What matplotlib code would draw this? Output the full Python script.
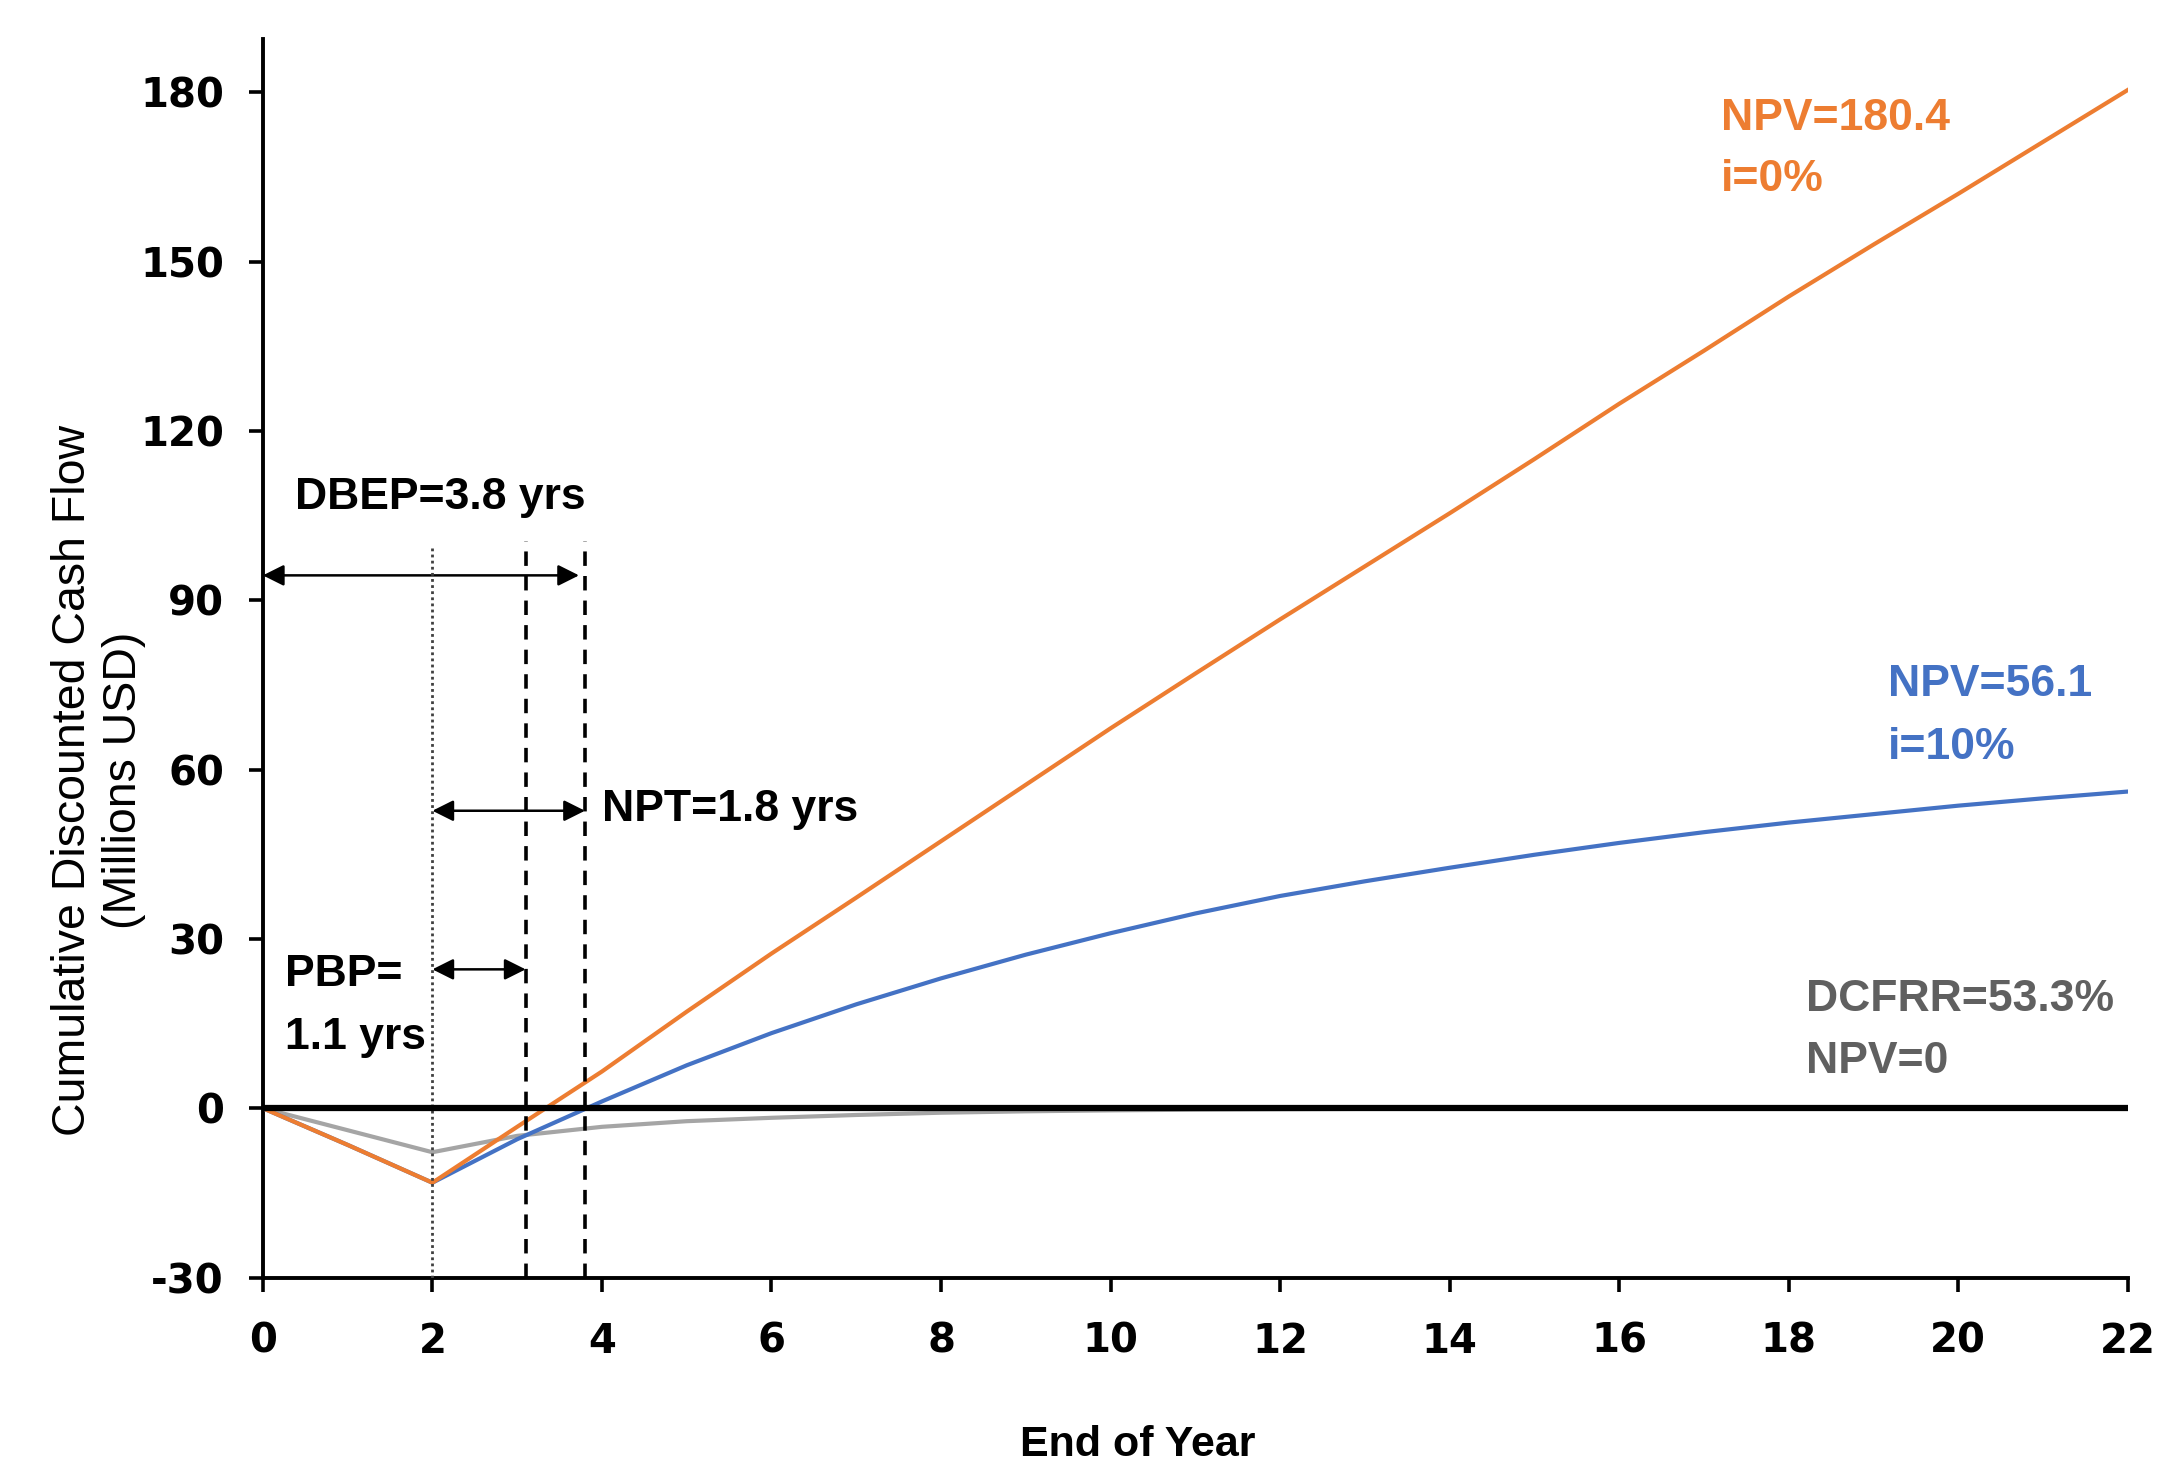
import matplotlib
matplotlib.use("Agg")
import matplotlib.pyplot as plt

plt.rcParams["axes.unicode_minus"] = False

# cumulative cash flow by end of year (millions USD)
years = list(range(23))
cum_i0 = [0, -6.5, -13.2, -3.3, 6.5, 17.1, 27.4, 37.3, 47.3, 57.3, 67.3, 77.0,
          86.6, 96.0, 105.4, 115.0, 124.8, 134.2, 143.8, 153.0, 162.0, 171.2, 180.4]
cum_i10 = [0, -6.5, -13.2, -5.5, 1.2, 7.6, 13.3, 18.4, 23.0, 27.2, 31.0, 34.5,
           37.6, 40.2, 42.6, 44.9, 47.0, 48.9, 50.6, 52.1, 53.6, 54.9, 56.1]
cum_dcfrr = [0, -3.9, -7.8, -4.9, -3.3, -2.3, -1.7, -1.2, -0.8, -0.55, -0.38, -0.26,
             -0.18, -0.12, -0.08, -0.05, -0.03, -0.02, -0.01, 0, 0, 0, 0]

startup_yr = 2.0
pbp_end = 3.1
dbep_end = 3.8

xticks = list(range(0, 23, 2))
yticks = [-30, 0, 30, 60, 90, 120, 150, 180]

ORANGE = "#ED7D31"
BLUE = "#4472C4"
GREY = "#A5A5A5"
GREY_TXT = "#606060"
SANS = ["Liberation Sans", "DejaVu Sans"]

fig = plt.figure(figsize=(21.58, 14.73), dpi=100)
ax = fig.add_axes([0.1218, 0.1327, 0.986 - 0.1218, 0.9738 - 0.1327])

ax.plot(years, cum_dcfrr, color=GREY, lw=3, zorder=3)
ax.plot(years, cum_i10, color=BLUE, lw=3, zorder=4)
ax.plot(years, cum_i0, color=ORANGE, lw=3, zorder=5)
ax.axhline(0, color="black", lw=4.5, zorder=7)

# vertical markers
ax.plot([startup_yr, startup_yr], [-30, 99.5], color="#404040", lw=2,
        linestyle=(0, (1, 1.2)), zorder=6)
ax.plot([pbp_end, pbp_end], [-30, 100.5], color="black", lw=2.6,
        linestyle=(0, (4, 2.8)), zorder=6)
ax.plot([dbep_end, dbep_end], [-30, 100.5], color="black", lw=2.6,
        linestyle=(0, (4, 2.8)), zorder=6)

arr = dict(arrowstyle="<|-|>", color="black", lw=1.8, mutation_scale=32,
           shrinkA=0, shrinkB=0)
ax.annotate("", xy=(0, 94.4), xytext=(dbep_end - 0.07, 94.4), arrowprops=arr)
ax.annotate("", xy=(startup_yr, 52.7), xytext=(dbep_end, 52.7), arrowprops=arr)
ax.annotate("", xy=(startup_yr, 24.6), xytext=(pbp_end, 24.6), arrowprops=arr)

tkw = dict(fontsize=32, fontweight="bold", family=SANS, va="center", ha="left")
ax.text(0.38, 108.2, "DBEP=3.8 yrs", **tkw)
ax.text(4.0, 53.0, "NPT=1.8 yrs", **tkw)
ax.text(0.26, 23.6, "PBP=", **tkw)
ax.text(0.26, 12.6, "1.1 yrs", **tkw)

ax.text(17.2, 175.4, "NPV=180.4", color=ORANGE, **tkw)
ax.text(17.2, 164.6, "i=0%", color=ORANGE, **tkw)
ax.text(19.17, 75.1, "NPV=56.1", color=BLUE, **tkw)
ax.text(19.17, 63.9, "i=10%", color=BLUE, **tkw)
ax.text(18.2, 19.3, "DCFRR=53.3%", color=GREY_TXT, **tkw)
ax.text(18.2, 8.3, "NPV=0", color=GREY_TXT, **tkw)

ax.set_xlim(0, 22)
ax.set_ylim(-30, 189.5)
ax.set_xticks(xticks)
ax.set_yticks(yticks)
for lab in ax.get_xticklabels() + ax.get_yticklabels():
    lab.set_fontweight("bold")
    lab.set_fontsize(29)
ax.tick_params(axis="both", direction="out", length=10, width=2.6, color="black")
ax.tick_params(axis="y", pad=18)
ax.tick_params(axis="x", pad=22)

ax.spines["top"].set_visible(False)
ax.spines["right"].set_visible(False)
ax.spines["left"].set_linewidth(2.8)
ax.spines["bottom"].set_linewidth(2.8)

fig.text(0.527, 0.0187, "End of Year", fontsize=31, fontweight="bold",
         family=SANS, ha="center", va="center")
fig.text(0.0456, 0.47, "Cumulative Discounted Cash Flow\n(Millions USD)",
         fontsize=33.5, family=SANS, rotation=90, ha="center", va="center",
         multialignment="center", linespacing=1.2)

fig.savefig("out.png", dpi=100)
